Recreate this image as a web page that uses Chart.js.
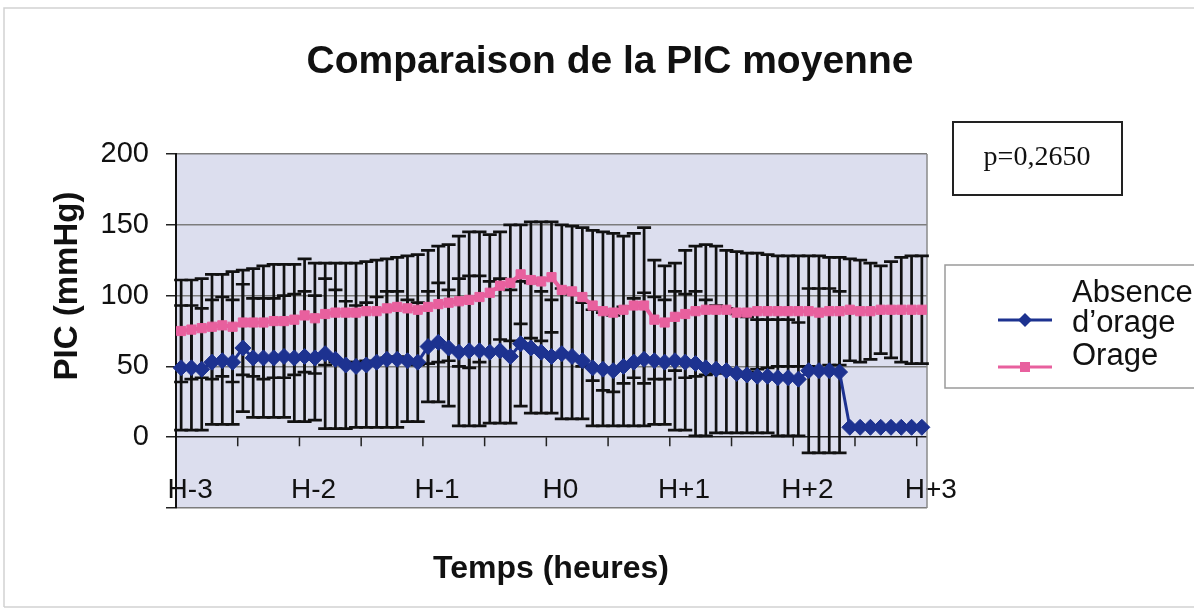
<!DOCTYPE html>
<html>
<head>
<meta charset="utf-8">
<title>Comparaison de la PIC moyenne</title>
<script src="https://cdn.jsdelivr.net/npm/chart.js@4.4.1/dist/chart.umd.min.js"></script>
<style>
  html, body { margin: 0; padding: 0; background: #fff; }
  #wrap { width: 1194px; height: 611px; }
</style>
</head>
<body>
<div id="wrap"><canvas id="myChart" width="1194" height="611"></canvas></div>
<script>
// Data (5 minute steps from H-3 to H+3)
const hourLabels = ['H-3', 'H-2', 'H-1', 'H0', 'H+1', 'H+2', 'H+3'];
const stepsPerHour = 12;

// Absence d'orage
const blueMean = [49,49,48,53,54,53,63,56,56,56, 57,56,57,56,59,55,51,50,51,53,
                  55,55,54,53,64,67,63,60,61,61, 60,61,57,66,63,60,57,59,57,54,
                  49,48,47,50,53,55,54,53,54,53, 52,49,48,47,45,44,43,43,42,42,
                  41,47,47,47,46,7,7,7,7,7, 7,7,7];
const blueSd   = [44,44,43,44,45,44,45,42,42,42, 43,45,46,44,53,49,45,43,44,46,
                  48,48,43,42,39,42,41,52,53,53, 50,51,47,44,46,43,40,46,44,41,
                  41,40,39,42,45,47,45,44,49,48, 51,48,45,44,42,41,40,40,41,41,
                  40,58,58,58,57,0,0,0,0,0, 0,0,0];

// Orage
const pinkMean = [75,76,77,78,79,78,81,81,81,82, 82,83,86,84,87,88,88,88,89,89,
                  91,92,91,90,92,94,95,96,97,99, 102,107,109,115,111,110,113,104,103,99,
                  93,89,88,90,93,93,83,81,85,87, 89,90,90,90,88,88,89,89,89,89,
                  89,89,88,89,89,90,89,89,90,90, 90,90,90];
const pinkSd   = [36,35,35,37,36,39,37,38,40,40, 40,39,40,39,36,35,35,35,35,36,
                  35,35,37,39,40,41,41,46,48,46, 41,38,41,35,41,42,39,46,46,49,
                  53,56,56,52,51,55,42,40,38,45, 46,46,45,42,43,42,41,40,39,39,
                  39,39,40,38,38,36,36,34,31,34, 37,38,38];

const yTicks = [-50, 0, 50, 100, 150, 200];

const categories = [];
for (let i = 0; i < blueMean.length; i++) {
  categories.push(i % stepsPerHour === 0 ? hourLabels[i / stepsPerHour] : '');
}

const FONT = "'Liberation Sans', Arial, sans-serif";
const BLUE = '#1D3290';
const PINK = '#E8609E';

// background, error bars, axis decorations and the boxed texts
const decor = {
  id: 'decor',
  beforeDraw(chart) {
    const { ctx, chartArea: a } = chart;
    ctx.save();
    ctx.fillStyle = '#fff';
    ctx.fillRect(0, 0, chart.width, chart.height);
    ctx.strokeStyle = '#d2d2d2';
    ctx.lineWidth = 1.5;
    ctx.beginPath();
    ctx.moveTo(4, chart.height - 4); ctx.lineTo(4, 8); ctx.lineTo(chart.width, 8);
    ctx.moveTo(4, chart.height - 4); ctx.lineTo(chart.width, chart.height - 4);
    ctx.stroke();
    ctx.fillStyle = '#DCDEEE';
    ctx.fillRect(a.left, a.top, a.right - a.left, a.bottom - a.top);
    ctx.restore();
  },
  beforeDatasetsDraw(chart) {
    const { ctx, chartArea: a } = chart;
    const x = chart.scales.x, y = chart.scales.y;
    ctx.save();
    // right border
    ctx.strokeStyle = '#8a8a8a';
    ctx.lineWidth = 1.5;
    ctx.beginPath();
    ctx.moveTo(a.right, a.top);
    ctx.lineTo(a.right, a.bottom);
    ctx.stroke();
    // tick marks on the 0 line, every half hour
    const w = x.getPixelForValue(1) - x.getPixelForValue(0);
    const y0 = y.getPixelForValue(0);
    ctx.strokeStyle = '#222';
    ctx.beginPath();
    for (let i = 6; i <= categories.length - 1; i += 6) {
      const px = x.getPixelForValue(i) - w / 2;
      ctx.moveTo(px, y0);
      ctx.lineTo(px, y0 + 9);
    }
    ctx.stroke();
    // error bars
    ctx.strokeStyle = '#111';
    ctx.lineWidth = 2.7;
    chart.data.datasets.forEach(ds => {
      ds.data.forEach((m, i) => {
        const sd = ds.sd[i];
        if (!sd) return;
        const px = x.getPixelForValue(i);
        const top = y.getPixelForValue(m + sd);
        const bot = y.getPixelForValue(m - sd);
        ctx.beginPath();
        ctx.moveTo(px, top); ctx.lineTo(px, bot);
        ctx.moveTo(px - 7, top); ctx.lineTo(px + 7, top);
        ctx.moveTo(px - 7, bot); ctx.lineTo(px + 7, bot);
        ctx.stroke();
      });
    });
    ctx.restore();
  },
  afterDraw(chart) {
    const { ctx } = chart;
    ctx.save();
    ctx.fillStyle = '#111';
    // title
    ctx.font = 'bold 39px ' + FONT;
    ctx.textAlign = 'center';
    ctx.textBaseline = 'alphabetic';
    ctx.fillText('Comparaison de la PIC moyenne', 610, 73);
    // x axis title
    ctx.font = 'bold 32px ' + FONT;
    ctx.fillText('Temps (heures)', 551, 578);
    // y axis title
    ctx.save();
    ctx.translate(77, 286);
    ctx.rotate(-Math.PI / 2);
    ctx.font = 'bold 33px ' + FONT;
    ctx.fillText('PIC (mmHg)', 0, 0);
    ctx.restore();

    // p value box
    ctx.strokeStyle = '#222';
    ctx.lineWidth = 2;
    ctx.strokeRect(953, 122, 169, 73);
    ctx.font = '28px "Liberation Serif", "Times New Roman", serif';
    ctx.textBaseline = 'middle';
    ctx.fillText('p=0,2650', 1037, 158);

    // legend
    ctx.strokeStyle = '#9a9a9a';
    ctx.lineWidth = 1.5;
    ctx.strokeRect(945, 265, 260, 123);
    ctx.lineWidth = 3;
    ctx.strokeStyle = BLUE;
    ctx.beginPath(); ctx.moveTo(998, 320); ctx.lineTo(1052, 320); ctx.stroke();
    ctx.fillStyle = BLUE;
    ctx.beginPath();
    ctx.moveTo(1025, 313); ctx.lineTo(1032, 320); ctx.lineTo(1025, 327); ctx.lineTo(1018, 320);
    ctx.closePath(); ctx.fill();
    ctx.strokeStyle = PINK;
    ctx.beginPath(); ctx.moveTo(998, 367); ctx.lineTo(1052, 367); ctx.stroke();
    ctx.fillStyle = PINK;
    ctx.fillRect(1020, 362, 10, 10);

    ctx.fillStyle = '#111';
    ctx.font = '31px ' + FONT;
    ctx.textAlign = 'left';
    ctx.fillText('Absence', 1072, 293);
    ctx.fillText('d\u2019orage', 1072, 323);
    ctx.fillText('Orage', 1072, 356);
    ctx.restore();
  }
};

const ctx = document.getElementById('myChart');

const config = {
  type: 'line',
  data: {
    labels: categories,
    datasets: [
      {
        label: 'Absence d\u2019orage',
        data: blueMean,
        sd: blueSd,
        borderColor: BLUE,
        backgroundColor: BLUE,
        borderWidth: 3,
        pointStyle: 'rectRot',
        pointRadius: 8,
        pointBorderWidth: 1,
        tension: 0
      },
      {
        label: 'Orage',
        data: pinkMean,
        sd: pinkSd,
        borderColor: PINK,
        backgroundColor: PINK,
        borderWidth: 4,
        pointStyle: 'rect',
        pointRadius: 6.5,
        pointBorderWidth: 1,
        tension: 0
      }
    ]
  },
  options: {
    responsive: false,
    animation: false,
    layout: { padding: { left: 0, right: 267, top: 154, bottom: 0 } },
    plugins: {
      legend: { display: false },
      title: { display: false },
      tooltip: { enabled: false }
    },
    scales: {
      x: {
        type: 'category',
        offset: true,
        grid: { display: false, drawTicks: false },
        border: { display: false },
        ticks: {
          autoSkip: false,
          maxRotation: 0,
          minRotation: 0,
          mirror: true,
          padding: 1,
          labelOffset: 9,
          color: '#111',
          font: { family: FONT, size: 28 }
        },
        afterFit(scale) { scale.height = 103; }
      },
      y: {
        min: yTicks[0],
        max: yTicks[yTicks.length - 1],
        afterBuildTicks(scale) { scale.ticks = yTicks.map(v => ({ value: v })); },
        ticks: {
          padding: 17,
          color: '#111',
          font: { family: FONT, size: 29 },
          callback: v => (v === -50 ? '' : v)
        },
        grid: {
          color: c => (c.tick && c.tick.value === 0 ? '#1e1e1e' : '#7c7c7c'),
          lineWidth: 1.5,
          tickColor: '#222',
          tickLength: 10
        },
        border: { display: true, color: '#111', width: 2 },
        afterFit(scale) { scale.width = 176; }
      }
    }
  },
  plugins: [decor]
};

const myChart = new Chart(ctx, config);
</script>
</body>
</html>
